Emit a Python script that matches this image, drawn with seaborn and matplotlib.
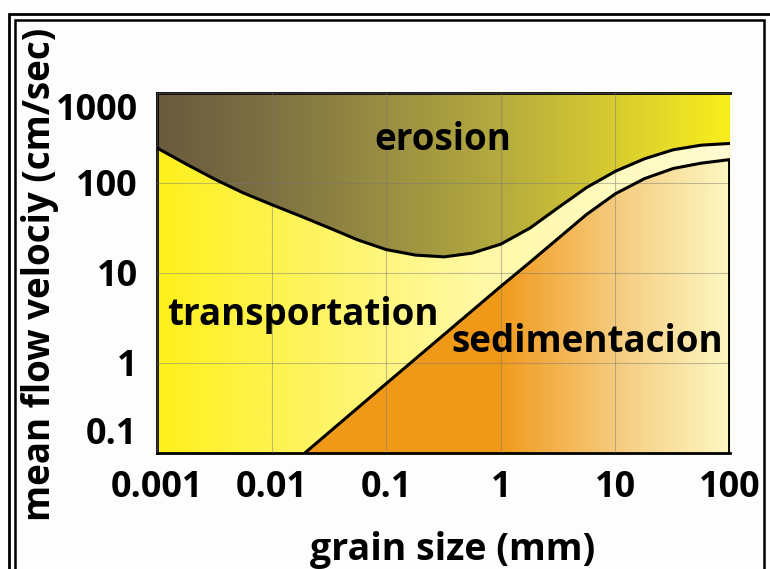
import numpy as np
import seaborn as sns
import matplotlib
matplotlib.use('Agg')
import matplotlib.pyplot as plt
from matplotlib.colors import LinearSegmentedColormap
from matplotlib.patches import Polygon, Rectangle

# boundary curves (grain size mm, velocity cm/s)
erosion_x = [0.001, 0.0018, 0.0032, 0.0056, 0.01, 0.018, 0.032, 0.056, 0.1, 0.18, 0.32,
             0.56, 1, 1.8, 3.2, 5.6, 10, 18, 32, 56, 100]
erosion_y = [245, 162, 110, 78, 57.5, 42.7, 31.6, 23.4, 18.2, 15.8, 15.1,
             16.6, 20.9, 31.6, 53.7, 89, 135, 186, 234, 263, 275]
sed_x = [0.0195, 0.1, 1, 1.8, 3.2, 5.6, 10, 18, 32, 56, 100]
sed_y = [0.1, 0.59, 7.1, 13.2, 24.5, 44.7, 75.9, 112, 145, 166, 182]

xticks = [0.001, 0.01, 0.1, 1, 10, 100]
xtick_labels = ['0.001', '0.01', '0.1', '1', '10', '100']
yticks = [0.1, 1, 10, 100, 1000]
ytick_labels = ['0.1', '1', '10', '100', '1000']

regions = ['erosion', 'transportation', 'sedimentacion']

sns.set_style('white')
plt.rcParams['font.family'] = ['Open Sans', 'DejaVu Sans']
plt.rcParams['font.weight'] = 'bold'
plt.rcParams['text.color'] = 'black'
plt.rcParams['xtick.color'] = 'black'
plt.rcParams['ytick.color'] = 'black'

fig = plt.figure(figsize=(7.7, 5.69), dpi=100)
fig.patch.set_facecolor('#fdfdfd')
ax = fig.add_axes([0.2039, 0.2039, 0.7442, 0.6327])
ax.set_xscale('log')
ax.set_yscale('log')
ax.set_xlim(0.001, 100)
ax.set_ylim(0.1, 1000)
ax.set_autoscale_on(False)

def gradient(colors, clip=None):
    cmap = LinearSegmentedColormap.from_list('g', colors)
    img = ax.imshow(np.linspace(0, 1, 512).reshape(1, -1), cmap=cmap, aspect='auto',
                    extent=[0, 1, 0, 1], transform=ax.transAxes, interpolation='bilinear', zorder=0)
    if clip is not None:
        img.set_clip_path(clip)
    return img

# transportation: background of the whole box
gradient([(0, '#fef01c'), (0.2, '#fef34e'), (0.4, '#fff680'), (0.6, '#fff9ac'), (1, '#fffcd2')])

# erosion: above upper curve
top = Polygon(list(zip(erosion_x, erosion_y)) + [(100, 1000), (0.001, 1000)],
              closed=True, transform=ax.transData, facecolor='none', edgecolor='none')
gradient([(0, '#6a5a3e'), (0.2, '#7e7243'), (0.4, '#9a8f42'), (0.6, '#b5ab3e'),
          (0.8, '#d8cc30'), (1, '#f8ee1c')], clip=top)

# sedimentacion: below lower curve
bot = Polygon(list(zip(sed_x, sed_y)) + [(100, 0.1)],
              closed=True, transform=ax.transData, facecolor='none', edgecolor='none')
gradient([(0, '#f09818'), (0.6, '#f09a1a'), (0.63, '#f2a22c'), (0.8, '#f5cb7e'), (1, '#fdf8c2')], clip=bot)

ax.grid(True, which='major', color='#777777', alpha=0.45, lw=0.8)
ax.set_axisbelow(False)

sns.lineplot(x=erosion_x, y=erosion_y, ax=ax, color='black', lw=2.2, zorder=4,
             solid_joinstyle='round')
sns.lineplot(x=sed_x, y=sed_y, ax=ax, color='black', lw=2.2, zorder=4,
             solid_joinstyle='round')
ax.vlines(sed_x[-1], 0.1, sed_y[-1], color='black', lw=2.8, zorder=5)

for side in ['top', 'left', 'bottom']:
    ax.spines[side].set_color('black')
    ax.spines[side].set_linewidth(2)
ax.spines['right'].set_visible(False)

ax.set_xticks(xticks)
ax.set_xticklabels(xtick_labels)
ax.set_yticks(yticks)
ax.set_yticklabels(ytick_labels)
ax.minorticks_off()
ax.tick_params(length=0, labelsize=26, pad=12)
ax.tick_params(axis='y', pad=14)
ylabs = ax.get_yticklabels()
ylabs[0].set_va('bottom')
ylabs[-1].set_va('top')

ax.text(0.31, 300, regions[0], fontsize=26.5, fontweight='bold', ha='center', va='center')
ax.text(0.0188, 3.4, regions[1], fontsize=26.5, fontweight='bold', ha='center', va='center')
ax.text(5.65, 1.71, regions[2], fontsize=26.5, fontweight='bold', ha='center', va='center')

fig.text(0.588, 0.034, 'grain size (mm)', fontsize=27, fontweight='bold', ha='center', va='center')
fig.text(0.052, 0.518, 'mean flow velociy (cm/sec)', fontsize=26.5, fontweight='bold',
         ha='center', va='center', rotation=90)

# double frame around the figure
fig.patches.append(Rectangle((9 / 770, -0.1), 1.1, 1 - 14 / 569 + 0.1, transform=fig.transFigure,
                             fill=False, edgecolor='black', lw=2))
fig.patches.append(Rectangle((15 / 770, -0.1), (764 - 15) / 770, 1 - 20 / 569 + 0.1,
                             transform=fig.transFigure, fill=False, edgecolor='black', lw=1.8))

fig.savefig('out.png', dpi=100, facecolor=fig.get_facecolor())
